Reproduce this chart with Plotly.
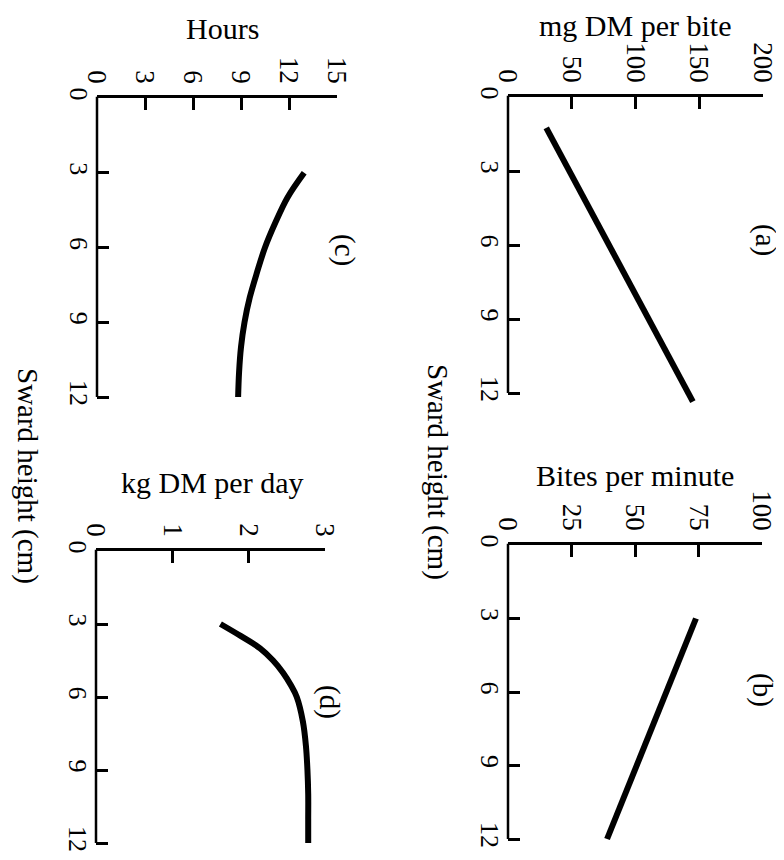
import plotly.graph_objects as go

# ---------------- data ----------------
sward_a = [1.25, 12.35]
bite_mass = [30, 145]

sward_b = [3, 12]
bite_rate = [74, 39]

sward_c = [3, 4, 5, 6, 7, 8, 9, 10, 11, 12]
graze_hours = [12.95, 11.9, 11.15, 10.5, 10.0, 9.55, 9.22, 9.0, 8.88, 8.82]

sward_d = [3, 3.5, 4, 4.5, 5, 5.5, 6, 7, 8, 9, 10, 11, 12]
intake = [1.63, 1.9, 2.15, 2.32, 2.45, 2.55, 2.63, 2.71, 2.75, 2.77, 2.78, 2.78, 2.78]

sward_ticks = [0, 3, 6, 9, 12]
ticks_a = [0, 50, 100, 150, 200]
ticks_b = [0, 25, 50, 75, 100]
ticks_c = [0, 3, 6, 9, 12, 15]
ticks_d = [0, 1, 2, 3]

titles = ["mg DM per bite", "Bites per minute", "Hours", "kg DM per day"]
labels = ["(a)", "(b)", "(c)", "(d)"]
xtitle = "Sward height (cm)"

# ---------------- layout helpers ----------------
OFF = 8                      # default body margin of the html page
W, H = 784 - OFF, 860 - OFF  # figure size so it fills the window
FONT = "Liberation Serif"
R = 12.6  # sward-axis range (extends slightly past 12 so line (a) shows)


def fx(px):
    return (px - OFF) / W


def fy(py):
    return 1 - (py - OFF) / H


# pixel frames (window coords): value-axis start/end x, sward 0 / 12 y
panels = [
    dict(x=bite_mass, y=sward_a, ticks=ticks_a, vx0=508, vx1=763, s0=97, s12=393),
    dict(x=bite_rate, y=sward_b, ticks=ticks_b, vx0=508, vx1=762, s0=545, s12=839),
    dict(x=graze_hours, y=sward_c, ticks=ticks_c, vx0=97, vx1=337, s0=98, s12=397),
    dict(x=intake, y=sward_d, ticks=ticks_d, vx0=96, vx1=325, s0=551, s12=843),
]

fig = go.Figure()
shapes = []
layout = {}
for i, p in enumerate(panels):
    n = "" if i == 0 else str(i + 1)
    xa, ya = "x" + n, "y" + n
    fig.add_trace(go.Scatter(
        x=p["x"], y=p["y"], xaxis=xa, yaxis=ya, mode="lines",
        line=dict(color="black", width=6, shape="spline", smoothing=1.0),
        showlegend=False, hoverinfo="skip"))
    bottom_px = p["s0"] + (p["s12"] - p["s0"]) * R / 12
    layout["xaxis" + n] = dict(
        domain=[fx(p["vx0"]), fx(p["vx1"])], anchor=ya, side="top",
        range=[0, p["ticks"][-1]], tickmode="array", tickvals=p["ticks"],
        ticks="inside", ticklen=12, tickwidth=2.5, tickcolor="black",
        showline=True, linewidth=2.5, linecolor="black", automargin=False,
        showgrid=False, zeroline=False, tickangle=90, ticklabelstandoff=2,
        tickfont=dict(family=FONT, size=27, color="black"), fixedrange=True)
    layout["yaxis" + n] = dict(
        domain=[fy(bottom_px), fy(p["s0"])], anchor=xa,
        range=[R, 0], tickmode="array", tickvals=sward_ticks,
        ticks="inside", ticklen=12, tickwidth=2.5, tickcolor="black",
        showline=False, showgrid=False, zeroline=False, tickangle=90,
        automargin=False,
        tickfont=dict(family=FONT, size=26, color="black"), fixedrange=True)
    shapes.append(dict(
        type="line", xref=xa + " domain", yref=ya + " domain",
        x0=0, x1=0, y0=1.004, y1=1 - 12 / R,
        line=dict(color="black", width=2.5)))

annotations = []
title_pos = [(635, 25), (635, 475), (222, 28), (212, 482)]
for t, (px, py) in zip(titles, title_pos):
    annotations.append(dict(text=t, x=fx(px), y=fy(py), xref="paper", yref="paper",
                            showarrow=False, xanchor="center", yanchor="middle",
                            font=dict(family=FONT, size=30, color="black")))
label_pos = [(765, 240), (763, 690), (345, 250), (330, 702)]
for t, (px, py) in zip(labels, label_pos):
    annotations.append(dict(text=t, x=fx(px), y=fy(py), xref="paper", yref="paper",
                            showarrow=False, xanchor="center", yanchor="middle",
                            textangle=90,
                            font=dict(family=FONT, size=29, color="black")))
for px, py in [(438, 472), (28, 476)]:
    annotations.append(dict(text=xtitle, x=fx(px), y=fy(py), xref="paper", yref="paper",
                            showarrow=False, xanchor="center", yanchor="middle",
                            textangle=90,
                            font=dict(family=FONT, size=29, color="black")))

fig.update_layout(
    width=W, height=H, margin=dict(l=0, r=0, t=0, b=0, autoexpand=False),
    paper_bgcolor="white", plot_bgcolor="white",
    shapes=shapes, annotations=annotations, **layout)

fig.write_html("out.html")
